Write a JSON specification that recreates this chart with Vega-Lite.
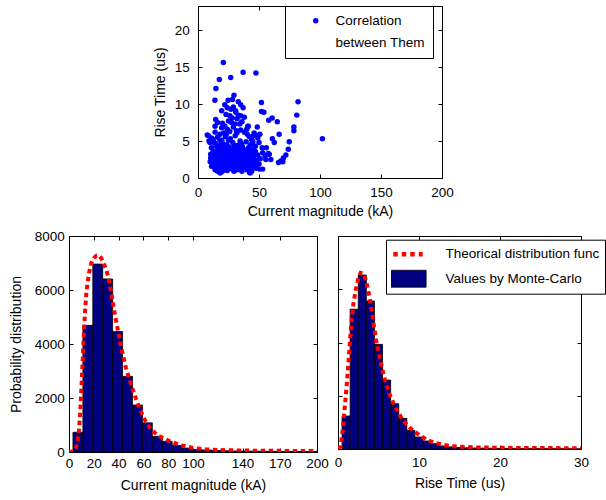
{
  "$schema": "https://vega.github.io/schema/vega-lite/v6.json",
  "padding": {"left": 8, "top": 5, "right": 0, "bottom": 0},
  "spacing": 9,
  "resolve": {"legend": {"color": "independent", "shape": "independent"}},
  "config": {
    "font": "Liberation Sans",
    "view": {"stroke": "black", "strokeWidth": 1},
    "axis": {
      "domain": false, "grid": false, "ticks": true, "tickColor": "black", "tickSize": -4, "tickWidth": 1,
      "labelFont": "Liberation Sans", "labelFontSize": 13.5, "labelColor": "black", "labelFlush": false, "labelOverlap": false,
      "titleFont": "Liberation Sans", "titleFontSize": 14, "titleFontWeight": "normal", "titleColor": "black"
    },
    "legend": {"labelFont": "Liberation Sans", "labelFontSize": 13.5, "labelColor": "black", "cornerRadius": 0, "symbolOpacity": 1},
    "style": {"guide-label": {"lineHeight": 22}}
  },
  "vconcat": [
    {
      "bounds": "flush",
      "spacing": 0,
      "resolve": {"legend": {"color": "independent", "shape": "independent"}},
      "hconcat": [
        {"width": 129, "height": 172, "view": {"stroke": null}, "data": {"values": []}, "mark": "point", "encoding": {}},
        {
          "width": 244, "height": 172,
          "resolve": {"axis": {"x": "independent", "y": "independent"}},
          "layer": [
            {
              "data": {"values": [
                {"current":20.8,"rise":15.6},{"current":37,"rise":14.3},{"current":47.5,"rise":14.2},{"current":17.5,"rise":13.3},{"current":26.8,"rise":13.6},{"current":14.7,"rise":12.1},{"current":13.9,"rise":10.5},{"current":24.7,"rise":10.5},{"current":28.2,"rise":10.6},{"current":29.5,"rise":11.2},{"current":33,"rise":10.3},{"current":19.4,"rise":9.1},{"current":37,"rise":9.5},{"current":52,"rise":10.2},{"current":52,"rise":9.0},{"current":54,"rise":8.9},{"current":82,"rise":10.3},{"current":81,"rise":8.5},{"current":78.6,"rise":6.9},{"current":78.6,"rise":6.4},{"current":65,"rise":7.6},{"current":60.8,"rise":8.1},{"current":58,"rise":7.8},{"current":102,"rise":5.3},{"current":74.8,"rise":4.9},{"current":74,"rise":3.9},{"current":72,"rise":3.1},{"current":70,"rise":2.7},{"current":68,"rise":2.3},{"current":66,"rise":2.1},{"current":69.5,"rise":2.2},{"current":66.5,"rise":5.9},{"current":61,"rise":5.3},{"current":62.5,"rise":4.8},{"current":58.4,"rise":3.2},{"current":59.7,"rise":2.5},{"current":55.6,"rise":2.5},{"current":55,"rise":3.0},{"current":53,"rise":3.4},{"current":53,"rise":1.2},{"current":50.7,"rise":5.9},{"current":49,"rise":5.4},{"current":48.6,"rise":6.9},{"current":40.9,"rise":7.0},{"current":40.4,"rise":5.9},{"current":7.6,"rise":5.8},{"current":9,"rise":5.0},{"current":10.4,"rise":3.2},{"current":10.4,"rise":2.7},{"current":18.5,"rise":0.7},{"current":29.5,"rise":0.9},{"current":43,"rise":0.7},{"current":26.2,"rise":8.4},{"current":33,"rise":8.5},{"current":27.4,"rise":7.5},{"current":34.2,"rise":7.3},{"current":14.5,"rise":7.9},{"current":14,"rise":7.0},{"current":19.4,"rise":6.8},{"current":41.2,"rise":7.0},{"current":8.5,"rise":5.7},{"current":23.2,"rise":5.9},{"current":31.4,"rise":6.4},{"current":45.3,"rise":5.7},{"current":9.8,"rise":4.8},{"current":11.2,"rise":1.6},{"current":17.9,"rise":0.7},{"current":42.4,"rise":0.7},{"current":50.6,"rise":1.2},{"current":24,"rise":9.5},{"current":30.8,"rise":9.1},{"current":35,"rise":8.4},{"current":40,"rise":6.6},{"current":46,"rise":6.1},{"current":50,"rise":4.8},{"current":52.6,"rise":4.1},{"current":47,"rise":3.6},{"current":56,"rise":4.1},{"current":57.6,"rise":3.3},
                {"current":11,"rise":4.1},{"current":12,"rise":2.9},{"current":12.5,"rise":5.2},{"current":13,"rise":1.9},{"current":13.5,"rise":3.6},{"current":14,"rise":2.4},{"current":14.5,"rise":4.6},{"current":15,"rise":3.1},{"current":15.5,"rise":1.4},{"current":16,"rise":5.5},{"current":16.5,"rise":2.6},{"current":17,"rise":3.9},{"current":17.5,"rise":1.8},{"current":18,"rise":4.4},{"current":18.5,"rise":2.2},{"current":19,"rise":3.3},{"current":19.5,"rise":5.1},{"current":20,"rise":1.6},{"current":20.5,"rise":2.8},{"current":21,"rise":4.0},{"current":21.5,"rise":1.2},{"current":22,"rise":3.5},{"current":22.5,"rise":5.6},{"current":23,"rise":2.3},{"current":23.5,"rise":4.5},{"current":24,"rise":1.5},{"current":24.5,"rise":3.0},{"current":25,"rise":2.0},{"current":25.5,"rise":4.2},{"current":26,"rise":2.7},{"current":26.5,"rise":5.3},{"current":27,"rise":1.3},{"current":27.5,"rise":3.7},{"current":28,"rise":2.2},{"current":28.5,"rise":4.8},{"current":29,"rise":1.7},{"current":29.5,"rise":3.1},{"current":30,"rise":2.5},{"current":30.5,"rise":5.7},{"current":31,"rise":1.4},{"current":31.5,"rise":3.9},{"current":32,"rise":2.0},{"current":32.5,"rise":4.4},{"current":33,"rise":1.6},{"current":33.5,"rise":3.0},{"current":34,"rise":2.6},{"current":34.5,"rise":5.0},{"current":35,"rise":1.2},{"current":35.5,"rise":3.5},{"current":36,"rise":2.3},{"current":36.5,"rise":4.2},{"current":37,"rise":1.8},{"current":37.5,"rise":2.9},{"current":38,"rise":3.8},{"current":38.5,"rise":1.4},{"current":39,"rise":2.5},{"current":39.5,"rise":4.9},{"current":40,"rise":1.9},{"current":40.5,"rise":3.2},{"current":41,"rise":2.4},{"current":41.5,"rise":4.1},{"current":42,"rise":1.5},{"current":42.5,"rise":2.8},{"current":43,"rise":3.6},{"current":43.5,"rise":2.0},{"current":44,"rise":4.6},{"current":44.5,"rise":1.3},{"current":45,"rise":2.6},{"current":46,"rise":3.4},{"current":46.5,"rise":1.8},{"current":47,"rise":4.3},{"current":48,"rise":2.4},{"current":49,"rise":3.1},{"current":50,"rise":1.9},{"current":51,"rise":2.6},
                {"current":13,"rise":3.2},{"current":15,"rise":2.2},{"current":16,"rise":4.0},{"current":17,"rise":1.2},{"current":18,"rise":3.0},{"current":19,"rise":1.9},{"current":20,"rise":4.7},{"current":21,"rise":2.5},{"current":22,"rise":1.8},{"current":23,"rise":3.9},{"current":24,"rise":2.6},{"current":25,"rise":5.1},{"current":26,"rise":1.9},{"current":27,"rise":2.9},{"current":28,"rise":3.9},{"current":29,"rise":2.6},{"current":30,"rise":1.8},{"current":31,"rise":3.1},{"current":32,"rise":3.5},{"current":33,"rise":2.4},{"current":34,"rise":4.1},{"current":35,"rise":2.7},{"current":36,"rise":1.6},{"current":37,"rise":3.7},{"current":38,"rise":2.1},{"current":39,"rise":3.3},{"current":40,"rise":2.8},{"current":41,"rise":1.5},{"current":42,"rise":3.9},{"current":43,"rise":2.5},{"current":44,"rise":3.2},{"current":45,"rise":4.9},{"current":46,"rise":2.2},{"current":47,"rise":1.5},{"current":12,"rise":1.6},{"current":14,"rise":1.1},{"current":16,"rise":0.9},{"current":20,"rise":0.9},{"current":24,"rise":1.0},{"current":28,"rise":1.2},{"current":32,"rise":1.1},{"current":36,"rise":0.9},{"current":40,"rise":1.1},{"current":44,"rise":0.9},{"current":48,"rise":1.3},{"current":10,"rise":2.2},{"current":11,"rise":5.4},{"current":14,"rise":6.2},{"current":18,"rise":5.9},{"current":21,"rise":6.1},{"current":24,"rise":6.6},{"current":26,"rise":6.3},{"current":29,"rise":6.9},{"current":32,"rise":6.1},{"current":35,"rise":6.5},{"current":38,"rise":6.2},{"current":42,"rise":5.6},{"current":44,"rise":5.2},{"current":47,"rise":5.8},{"current":20,"rise":7.4},{"current":22,"rise":7.0},{"current":25,"rise":7.7},{"current":28,"rise":8.1},{"current":30,"rise":7.3},{"current":32,"rise":8.0},{"current":36,"rise":7.6},{"current":38,"rise":8.2},{"current":16,"rise":7.5},{"current":23,"rise":8.6},{"current":29,"rise":9.6},{"current":31,"rise":8.9},{"current":35,"rise":9.9},{"current":27,"rise":9.3},{"current":22,"rise":9.9},
                {"current":12.3,"rise":3.5},{"current":13.2,"rise":4.8},{"current":14.8,"rise":1.9},{"current":15.7,"rise":3.7},{"current":16.8,"rise":2.0},{"current":17.8,"rise":5.1},{"current":18.8,"rise":1.5},{"current":19.8,"rise":3.8},{"current":20.7,"rise":2.2},{"current":21.8,"rise":3.0},{"current":22.7,"rise":4.3},{"current":23.8,"rise":1.7},{"current":24.7,"rise":3.4},{"current":25.8,"rise":2.4},{"current":26.8,"rise":4.0},{"current":27.7,"rise":1.9},{"current":28.8,"rise":3.3},{"current":29.8,"rise":4.4},{"current":30.7,"rise":2.1},{"current":31.8,"rise":2.8},{"current":32.8,"rise":3.9},{"current":33.7,"rise":2.2},{"current":34.8,"rise":3.3},{"current":35.8,"rise":4.6},{"current":36.7,"rise":2.0},{"current":37.8,"rise":3.2},{"current":38.8,"rise":2.7},{"current":39.7,"rise":3.6},{"current":40.8,"rise":2.1},{"current":41.8,"rise":3.4},{"current":42.7,"rise":4.4},{"current":43.8,"rise":1.8},{"current":44.8,"rise":3.8},{"current":45.7,"rise":2.9},{"current":13.7,"rise":2.7},{"current":17.3,"rise":2.5},{"current":21.3,"rise":3.4},{"current":25.3,"rise":2.6},{"current":29.3,"rise":2.1},{"current":33.3,"rise":2.9},{"current":37.3,"rise":2.4},{"current":41.3,"rise":2.9},{"current":19.2,"rise":2.6},{"current":23.2,"rise":3.1},{"current":27.2,"rise":2.3},{"current":31.2,"rise":2.4},{"current":35.2,"rise":1.9},{"current":39.2,"rise":2.0},{"current":15.2,"rise":4.3},{"current":26.2,"rise":3.5},{"current":34.2,"rise":3.7},{"current":18.2,"rise":3.7},{"current":30.2,"rise":3.6}
              ]},
              "mark": {"type": "point", "filled": true, "size": 30, "opacity": 1},
              "encoding": {
                "x": {"field": "current", "type": "quantitative", "scale": {"domain": [0, 200], "nice": false},
                      "axis": {"values": [0, 50, 100, 150, 200], "format": "d", "title": "Current magnitude (kA)", "labelPadding": 11, "titlePadding": 6}},
                "y": {"field": "rise", "type": "quantitative", "scale": {"domain": [0, 23.25], "nice": false},
                      "axis": {"values": [0, 5, 10, 15, 20], "format": "d", "title": "Rise Time (us)", "labelPadding": 12.7, "titlePadding": 7}},
                "color": {"datum": "Correlation between Them", "scale": {"range": ["#0000ff"]},
                          "legend": {"orient": "none", "legendX": 87, "legendY": 0, "title": null, "strokeColor": "black", "fillColor": "white",
                                     "padding": 8, "symbolOffset": 16, "labelOffset": 13, "symbolSize": 30, "symbolType": "circle",
                                     "labelLimit": 200, "labelExpr": "['Correlation', 'between Them']"}}
              }
            },
            {
              "data": {"values": []},
              "mark": "point",
              "encoding": {
                "x": {"field": "current", "type": "quantitative", "axis": {"orient": "top", "values": [0, 50, 100, 150, 200], "labels": false, "title": null}},
                "y": {"field": "rise", "type": "quantitative", "axis": {"orient": "right", "values": [0, 5, 10, 15, 20], "labels": false, "title": null}}
              }
            }
          ]
        }
      ]
    },
    {
      "bounds": "flush",
      "spacing": 21,
      "resolve": {"legend": {"color": "independent", "shape": "independent"}},
      "hconcat": [
        {
          "width": 248, "height": 216,
          "resolve": {"axis": {"x": "independent", "y": "independent"}},
          "layer": [
            {
              "data": {"values": [
                {"x0":3.2,"x1":11.2,"count":730},{"x0":11.2,"x1":19.2,"count":4690},{"x0":19.2,"x1":27.2,"count":6960},{"x0":27.2,"x1":35.2,"count":6410},{"x0":35.2,"x1":43.2,"count":4460},{"x0":43.2,"x1":51.2,"count":2800},{"x0":51.2,"x1":59.2,"count":1740},{"x0":59.2,"x1":67.2,"count":1080},{"x0":67.2,"x1":75.2,"count":580},{"x0":75.2,"x1":83.2,"count":395},{"x0":83.2,"x1":91.2,"count":245},{"x0":91.2,"x1":99.2,"count":145},{"x0":99.2,"x1":107.2,"count":95},{"x0":107.2,"x1":115.2,"count":75},{"x0":115.2,"x1":123.2,"count":55},{"x0":123.2,"x1":131.2,"count":45},{"x0":131.2,"x1":139.2,"count":38},{"x0":139.2,"x1":147.2,"count":32},{"x0":147.2,"x1":155.2,"count":28},{"x0":155.2,"x1":163.2,"count":24},{"x0":163.2,"x1":171.2,"count":20},{"x0":171.2,"x1":179.2,"count":18},{"x0":179.2,"x1":187.2,"count":15},{"x0":187.2,"x1":195.2,"count":13},{"x0":195.2,"x1":203.2,"count":11}
              ]},
              "mark": {"type": "bar", "fill": "#000080", "stroke": "black", "strokeWidth": 0.8, "clip": true},
              "encoding": {
                "x": {"field": "x0", "type": "quantitative", "scale": {"domain": [0, 200], "nice": false},
                      "axis": {"values": [0, 20, 40, 60, 80, 100, 140, 170, 200], "format": "d", "title": "Current magnitude (kA)", "labelPadding": 8.5, "titlePadding": 8}},
                "x2": {"field": "x1"},
                "y": {"field": "count", "type": "quantitative", "scale": {"domain": [0, 8000], "nice": false},
                      "axis": {"values": [0, 2000, 4000, 6000, 8000], "format": "d", "title": "Probability distribution", "labelPadding": 8.7, "titlePadding": 11}},
                "y2": {"datum": 0}
              }
            },
            {
              "data": {"values": [
                {"x":0,"y":0},{"x":4,"y":30},{"x":6,"y":200},{"x":7,"y":450},{"x":8,"y":800},{"x":9,"y":1450},{"x":10,"y":2350},{"x":11,"y":3350},{"x":12,"y":4400},{"x":13,"y":5250},{"x":14,"y":5900},{"x":16,"y":6600},{"x":18,"y":7000},{"x":20,"y":7180},{"x":22,"y":7270},{"x":24,"y":7290},{"x":26,"y":7180},{"x":28,"y":6980},{"x":30,"y":6750},{"x":32,"y":6420},{"x":34,"y":5900},{"x":36,"y":5350},{"x":38,"y":4850},{"x":42,"y":3900},{"x":46,"y":3100},{"x":50,"y":2500},{"x":53,"y":2100},{"x":57,"y":1600},{"x":61,"y":1200},{"x":66,"y":850},{"x":72,"y":600},{"x":80,"y":420},{"x":90,"y":250},{"x":100,"y":150},{"x":110,"y":100},{"x":120,"y":75},{"x":140,"y":55},{"x":160,"y":45},{"x":180,"y":40},{"x":200,"y":35}
              ]},
              "mark": {"type": "line", "stroke": "#ff0000", "strokeWidth": 4, "strokeDash": [4.5, 3.5], "clip": true},
              "encoding": {
                "x": {"field": "x", "type": "quantitative", "axis": {"orient": "top", "values": [0, 20, 40, 60, 80, 100, 140, 170, 200], "labels": false, "title": null}},
                "y": {"field": "y", "type": "quantitative", "axis": {"orient": "right", "values": [0, 2000, 4000, 6000, 8000], "labels": false, "title": null}}
              }
            }
          ]
        },
        {
          "width": 243, "height": 213,
          "resolve": {"axis": {"x": "independent", "y": "independent"}},
          "layer": [
            {
              "data": {"values": [
                {"x0":0.5,"x1":1.5,"count":1240},{"x0":1.5,"x1":2.5,"count":5250},{"x0":2.5,"x1":3.5,"count":6535},{"x0":3.5,"x1":4.5,"count":5560},{"x0":4.5,"x1":5.5,"count":3930},{"x0":5.5,"x1":6.5,"count":2590},{"x0":6.5,"x1":7.5,"count":1700},{"x0":7.5,"x1":8.5,"count":1150},{"x0":8.5,"x1":9.5,"count":700},{"x0":9.5,"x1":10.5,"count":450},{"x0":10.5,"x1":11.5,"count":300},{"x0":11.5,"x1":12.5,"count":200},{"x0":12.5,"x1":13.5,"count":115},{"x0":13.5,"x1":14.5,"count":80},{"x0":14.5,"x1":15.5,"count":58},{"x0":15.5,"x1":16.5,"count":45},{"x0":16.5,"x1":17.5,"count":38},{"x0":17.5,"x1":18.5,"count":32},{"x0":18.5,"x1":19.5,"count":27},{"x0":19.5,"x1":20.5,"count":23},{"x0":20.5,"x1":21.5,"count":20},{"x0":21.5,"x1":22.5,"count":17},{"x0":22.5,"x1":23.5,"count":15},{"x0":23.5,"x1":24.5,"count":13},{"x0":24.5,"x1":25.5,"count":11},{"x0":25.5,"x1":26.5,"count":10},{"x0":26.5,"x1":27.5,"count":9},{"x0":27.5,"x1":28.5,"count":8},{"x0":28.5,"x1":29.5,"count":7},{"x0":29.5,"x1":30.5,"count":6}
              ]},
              "mark": {"type": "bar", "fill": "#000080", "stroke": "black", "strokeWidth": 0.8, "clip": true},
              "encoding": {
                "x": {"field": "x0", "type": "quantitative", "scale": {"domain": [0, 30], "nice": false},
                      "axis": {"values": [0, 10, 20, 30], "format": "d", "title": "Rise Time (us)", "labelPadding": 10, "titlePadding": 8}},
                "x2": {"field": "x1"},
                "y": {"field": "count", "type": "quantitative", "scale": {"domain": [0, 8000], "nice": false},
                      "axis": {"values": [0, 2000, 4000, 6000, 8000], "labels": false, "title": null}},
                "y2": {"datum": 0}
              }
            },
            {
              "data": {"values": [
                {"x":0,"y":0},{"x":0.3,"y":100},{"x":0.5,"y":500},{"x":0.7,"y":1100},{"x":0.9,"y":1800},{"x":1.1,"y":2500},{"x":1.3,"y":3300},{"x":1.5,"y":4150},{"x":1.7,"y":4900},{"x":1.9,"y":5450},{"x":2.2,"y":6000},{"x":2.5,"y":6400},{"x":2.8,"y":6620},{"x":3.1,"y":6600},{"x":3.4,"y":6380},{"x":3.7,"y":6000},{"x":4.0,"y":5500},{"x":4.3,"y":4900},{"x":4.7,"y":4100},{"x":5.2,"y":3350},{"x":5.7,"y":2700},{"x":6.3,"y":2100},{"x":7.0,"y":1600},{"x":8.0,"y":1080},{"x":9.0,"y":760},{"x":10,"y":530},{"x":11,"y":340},{"x":12,"y":230},{"x":13,"y":160},{"x":14,"y":110},{"x":15,"y":85},{"x":17,"y":60},{"x":20,"y":45},{"x":25,"y":35},{"x":30,"y":30}
              ]},
              "mark": {"type": "line", "stroke": "#ff0000", "strokeWidth": 4, "strokeDash": [4.5, 3.5], "clip": true},
              "encoding": {
                "x": {"field": "x", "type": "quantitative", "axis": {"orient": "top", "values": [0, 10, 20, 30], "labels": false, "title": null}},
                "y": {"field": "y", "type": "quantitative", "axis": {"orient": "right", "values": [0, 2000, 4000, 6000, 8000], "labels": false, "title": null}}
              }
            },
            {
              "data": {"values": []},
              "mark": {
                "type": "point", "filled": true, "size": 2000, "opacity": 1,
                "fill": {"expr": "datum.value === 'Values by Monte-Carlo' ? '#000080' : 'rgba(0,0,0,0)'"},
                "stroke": {"expr": "datum.value === 'Values by Monte-Carlo' ? '#000000' : '#ff0000'"},
                "strokeWidth": {"expr": "datum.value === 'Values by Monte-Carlo' ? 0.8 : 4.5"},
                "strokeDash": {"expr": "datum.value === 'Values by Monte-Carlo' ? [100, 0] : [4.5, 4]"}
              },
              "encoding": {
                "shape": {"field": "series", "type": "nominal",
                          "scale": {"domain": ["Theorical distribution func", "Values by Monte-Carlo"], "range": ["M-0.85,0H0.85", "M-1,-0.38H1V0.38H-1Z"]},
                          "legend": {"orient": "none", "legendX": 48, "legendY": 3.7, "title": null, "strokeColor": "black", "fillColor": "white",
                                     "padding": 5, "clipHeight": 19, "rowPadding": 5.5, "symbolSize": 2000, "symbolOffset": 6, "labelOffset": 35,
                                     "labelLimit": 250, "symbolOpacity": 1,
                                     "symbolStrokeWidth": {"expr": "datum.value === 'Values by Monte-Carlo' ? 0.8 : 4.5"},
                                     "symbolDash": {"expr": "datum.value === 'Values by Monte-Carlo' ? [100, 0] : [4.5, 4]"}}}
              }
            }
          ]
        }
      ]
    }
  ]
}
